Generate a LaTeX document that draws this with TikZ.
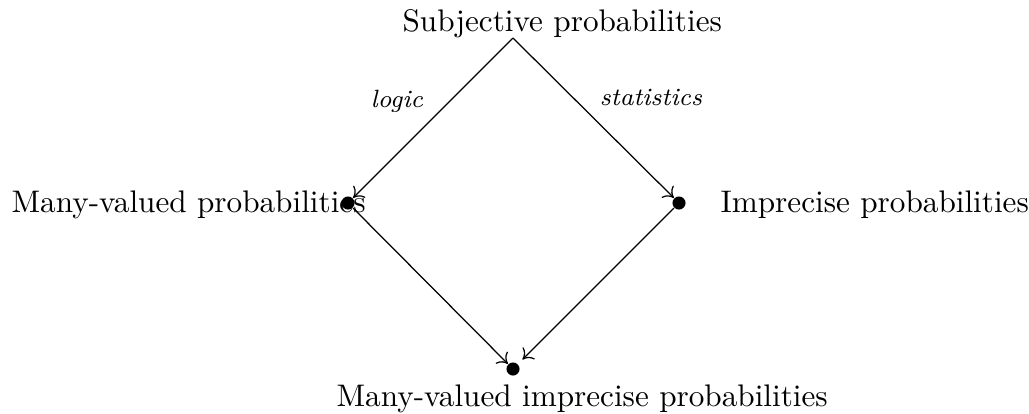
\documentclass[tikz,border=0pt]{standalone}
\usetikzlibrary{arrows.meta}
\begin{document}
\begin{tikzpicture}[x=0.3205pt,y=-0.3205pt,
  dotnode/.style={circle,fill=black,inner sep=0pt,minimum size=4.2pt},
  txt/.style={inner sep=0pt,anchor=base west},
  lbl/.style={inner sep=0pt,anchor=base,font=\footnotesize\itshape},
  arr/.style={-{To[length=3pt,width=5.4pt]},line width=0.4pt}]
\useasboundingbox (0,0) rectangle (1029,414);
\node[txt] (tS) at (402,31) {Subjective probabilities};
\node[txt] (tL) at (11,212) {Many-valued probabilities};
\node[txt] (tR) at (720,212) {Imprecise probabilities};
\node[txt] (tB) at (336,406) {Many-valued imprecise probabilities};
\coordinate (top) at (513,38);
\node[dotnode] (L) at (348,203) {};
\node[dotnode] (R) at (679,203) {};
\node[dotnode] (B) at (513,369) {};
\draw[arr] (top) -- (L);
\draw[arr] (top) -- (R);
\draw[arr] (L) -- (B);
\draw[arr,shorten >=2pt] (R) -- (B);
\node[lbl] (lg) at (397,107) {logic};
\node[lbl] (st) at (651,105) {statistics};
\end{tikzpicture}
\end{document}
